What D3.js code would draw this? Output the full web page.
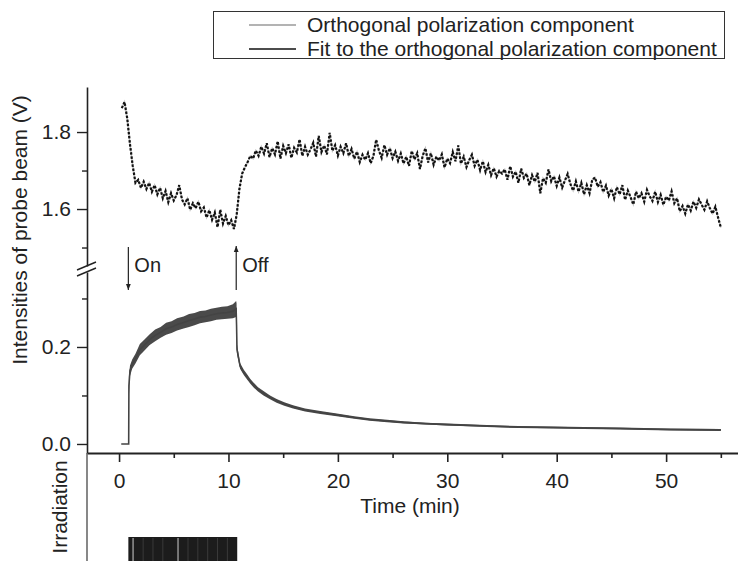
<!DOCTYPE html>
<html>
<head>
<meta charset="utf-8">
<script src="https://cdn.jsdelivr.net/npm/d3@7"></script>
<style>
  html, body { margin: 0; padding: 0; background: #fff; }
  svg { display: block; font-family: "Liberation Sans", Arial, sans-serif; }
  .axis text { font-size: 21px; fill: #222; font-family: "Liberation Sans", Arial, sans-serif; }
  .axis path, .axis line { stroke: #222; }
</style>
</head>
<body>
<svg id="chart" width="738" height="561"></svg>
<script>
// Probe-beam intensity, upper (parallel) trace: sampled every 0.25 min from 0.25 min
const upperStart = 0.25;
const upperStep = 0.25;
const upperValues = [
  1.862, 1.878, 1.835, 1.768, 1.712, 1.668, 1.676, 1.655, 1.671, 1.652,
  1.668, 1.645, 1.662, 1.638, 1.655, 1.628, 1.647, 1.618, 1.641, 1.622,
  1.636, 1.662, 1.625, 1.612, 1.628, 1.598, 1.615, 1.602, 1.619, 1.594,
  1.604, 1.578, 1.597, 1.572, 1.591, 1.553, 1.598, 1.562, 1.582, 1.558,
  1.571, 1.548, 1.585, 1.652, 1.692, 1.708, 1.722, 1.738, 1.731, 1.752,
  1.738, 1.762, 1.744, 1.771, 1.735, 1.758, 1.742, 1.776, 1.731, 1.764,
  1.745, 1.768, 1.733, 1.759, 1.747, 1.781, 1.738, 1.762, 1.741, 1.755,
  1.772, 1.736, 1.790, 1.748, 1.765, 1.742, 1.798, 1.751, 1.766, 1.739,
  1.762, 1.745, 1.771, 1.738, 1.756, 1.731, 1.749, 1.722, 1.741, 1.728,
  1.745, 1.719, 1.738, 1.780, 1.752, 1.733, 1.766, 1.741, 1.758, 1.732,
  1.749, 1.725, 1.744, 1.718, 1.736, 1.712, 1.751, 1.729, 1.745, 1.704,
  1.738, 1.758, 1.721, 1.745, 1.715, 1.736, 1.726, 1.742, 1.708, 1.731,
  1.719, 1.748, 1.724, 1.765, 1.718, 1.736, 1.709, 1.727, 1.741, 1.712,
  1.728, 1.701, 1.724, 1.696, 1.715, 1.688, 1.706, 1.684, 1.699, 1.692,
  1.703, 1.676, 1.711, 1.684, 1.697, 1.668, 1.705, 1.681, 1.692, 1.662,
  1.688, 1.671, 1.694, 1.641, 1.680, 1.668, 1.703, 1.672, 1.685, 1.660,
  1.682, 1.656, 1.674, 1.691, 1.665, 1.648, 1.672, 1.645, 1.668, 1.638,
  1.662, 1.641, 1.676, 1.682, 1.658, 1.670, 1.644, 1.661, 1.635, 1.652,
  1.628, 1.657, 1.638, 1.662, 1.624, 1.648, 1.631, 1.612, 1.645, 1.628,
  1.641, 1.619, 1.650, 1.633, 1.621, 1.645, 1.618, 1.637, 1.611, 1.632,
  1.622, 1.646, 1.615, 1.628, 1.594, 1.608, 1.588, 1.612, 1.596, 1.619,
  1.603, 1.625, 1.611, 1.598, 1.620, 1.602, 1.588, 1.606, 1.578, 1.552
];

// Orthogonal polarization component: time (min) with lower / upper edge of the noisy trace (V)
const orthoTime = [
  0.2, 0.88, 0.9, 1.0, 1.2, 1.5, 1.9, 2.3, 2.8, 3.3,
  3.8, 4.3, 4.8, 5.3, 5.9, 6.4, 6.9, 7.4, 7.9, 8.4,
  8.9, 9.4, 9.9, 10.4, 10.7, 10.74, 10.78, 11.06, 11.4, 11.67,
  12.0, 12.28, 12.7, 13.2, 13.8, 14.4, 15.1, 15.9, 17.0, 18.4,
  19.9, 21.5, 22.9, 24.5, 26.0, 28.0, 30.0, 33.6, 36.5, 39.7,
  42.5, 45.8, 48.0, 50.4, 55.0
];
const orthoLow = [
  0, 0, 0.10, 0.140, 0.155, 0.166, 0.183, 0.192, 0.204, 0.212,
  0.219, 0.225, 0.229, 0.234, 0.238, 0.241, 0.245, 0.249, 0.251, 0.253,
  0.256, 0.257, 0.258, 0.259, 0.262, 0.20, 0.185, 0.155, 0.142, 0.134,
  0.124, 0.117, 0.108, 0.100, 0.092, 0.085, 0.079, 0.073, 0.067, 0.062,
  0.057, 0.052, 0.048, 0.045, 0.042, 0.040, 0.038, 0.035, 0.033, 0.032,
  0.031, 0.030, 0.029, 0.028, 0.027
];
const orthoHigh = [
  0, 0, 0.14, 0.162, 0.174, 0.186, 0.206, 0.215, 0.226, 0.236,
  0.241, 0.250, 0.253, 0.259, 0.263, 0.268, 0.270, 0.274, 0.275, 0.279,
  0.281, 0.283, 0.284, 0.288, 0.295, 0.29, 0.205, 0.167, 0.153, 0.145,
  0.134, 0.127, 0.117, 0.109, 0.100, 0.093, 0.086, 0.080, 0.073, 0.068,
  0.063, 0.057, 0.053, 0.050, 0.047, 0.044, 0.042, 0.039, 0.037, 0.036,
  0.035, 0.034, 0.033, 0.032, 0.031
];

// Irradiation period (min) and the thin gaps visible in the exposure bar
const irradiationOn = 0.85;
const irradiationOff = 10.8;
const irradiationGaps = [1.28, 5.39];
const irradiationFaint = [2.2, 3.1, 4.0, 6.3, 7.2, 8.1, 9.0, 9.9];

// Tick values
const xMajorTicks = [0, 10, 20, 30, 40, 50];
const xMinorTicks = [5, 15, 25, 35, 45, 55];
const yTopMajor = [1.6, 1.8];
const yTopMinor = [1.5, 1.7];
const yBotMajor = [0.0, 0.2];
const yBotMinor = [0.1, 0.3];

// Labels
const legendLabels = ["Orthogonal polarization component", "Fit to the orthogonal polarization component"];
const legendColors = ["#9a9a9a", "#111"];
const xTitle = "Time (min)";
const yTitle = "Intensities of probe beam (V)";
const irrTitle = "Irradiation";

const svg = d3.select("#chart");

const axisX = 87;
const x = d3.scaleLinear().domain([-2.93, 56.57]).range([axisX, 738]);
const yTop = d3.scaleLinear().domain([1.452, 1.917]).range([266, 87]);
const yBot = d3.scaleLinear().domain([-0.0186, 0.3546]).range([453, 272]);

// ----- axes -----
function leftAxis(scale, major, minor) {
  const gMaj = svg.append("g").attr("class", "axis")
    .attr("transform", `translate(${axisX},0)`)
    .call(d3.axisLeft(scale).tickValues(major).tickFormat(d3.format(".1f"))
      .tickSize(10).tickSizeOuter(0).tickPadding(6));
  gMaj.selectAll("line").attr("stroke-width", 1.4);
  gMaj.select(".domain").attr("stroke-width", 1.6);
  const gMin = svg.append("g").attr("class", "axis")
    .attr("transform", `translate(${axisX},0)`)
    .call(d3.axisLeft(scale).tickValues(minor).tickFormat("").tickSize(5).tickSizeOuter(0));
  gMin.select(".domain").remove();
  gMin.selectAll("line").attr("stroke-width", 1.4);
}
leftAxis(yTop, yTopMajor, yTopMinor);
leftAxis(yBot, yBotMajor, yBotMinor);

// axis break marks
const breakG = svg.append("g");
[0, 6].forEach(dy => {
  breakG.append("line")
    .attr("x1", axisX - 10).attr("y1", 270 + dy)
    .attr("x2", axisX + 9).attr("y2", 262 + dy)
    .attr("stroke", "#222").attr("stroke-width", 1.4);
});

// bottom axis
const gx = svg.append("g").attr("class", "axis")
  .attr("transform", "translate(0,453)")
  .call(d3.axisBottom(x).tickValues(xMajorTicks).tickFormat(d3.format("d"))
    .tickSize(9).tickSizeOuter(0).tickPadding(11));
gx.select(".domain").attr("stroke-width", 2);
gx.selectAll("line").attr("stroke-width", 1.6);
const gxm = svg.append("g").attr("class", "axis")
  .attr("transform", "translate(0,453)")
  .call(d3.axisBottom(x).tickValues(xMinorTicks).tickFormat("").tickSize(5).tickSizeOuter(0));
gxm.select(".domain").remove();
gxm.selectAll("line").attr("stroke-width", 1.6);

// irradiation axis line
svg.append("line")
  .attr("x1", axisX).attr("x2", axisX).attr("y1", 453).attr("y2", 561)
  .attr("stroke", "#555").attr("stroke-width", 1.4);

// ----- lower trace (orthogonal component) -----
const ortho = orthoTime.map((t, i) => ({ t, lo: orthoLow[i], hi: orthoHigh[i] }));
svg.append("path")
  .datum(ortho)
  .attr("d", d3.area().x(d => x(d.t)).y0(d => yBot(d.lo)).y1(d => yBot(d.hi)))
  .attr("fill", "#4a4a4a");
svg.append("path")
  .datum(ortho)
  .attr("d", d3.line().x(d => x(d.t)).y(d => yBot((d.lo + d.hi) / 2)))
  .attr("fill", "none").attr("stroke", "#444").attr("stroke-width", 1.6);

// ----- upper trace -----
const upper = upperValues.map((v, i) => ({ t: upperStart + i * upperStep, v }));
const upperLine = d3.line().x(d => x(d.t)).y(d => yTop(d.v));
svg.append("path").datum(upper).attr("d", upperLine)
  .attr("fill", "none").attr("stroke", "#bdbdbd").attr("stroke-width", 1.4);
svg.append("path").datum(upper).attr("d", upperLine)
  .attr("fill", "none").attr("stroke", "#111").attr("stroke-width", 2.2)
  .attr("stroke-dasharray", "2.5,1.6");

// ----- On / Off annotations -----
const defs = svg.append("defs");
defs.append("marker").attr("id", "arrow")
  .attr("viewBox", "0 0 10 10").attr("refX", 10).attr("refY", 5)
  .attr("markerWidth", 6).attr("markerHeight", 6)
  .attr("markerUnits", "userSpaceOnUse").attr("orient", "auto")
  .append("path").attr("d", "M0,1 L10,5 L0,9 Z").attr("fill", "#222");

svg.append("line")
  .attr("x1", x(irradiationOn)).attr("x2", x(irradiationOn))
  .attr("y1", 247).attr("y2", 290)
  .attr("stroke", "#222").attr("stroke-width", 1.2).attr("marker-end", "url(#arrow)");
svg.append("text").attr("x", x(irradiationOn) + 6).attr("y", 272)
  .attr("font-size", 20).attr("fill", "#222").text("On");

svg.append("line")
  .attr("x1", x(irradiationOff) - 1).attr("x2", x(irradiationOff) - 1)
  .attr("y1", 290).attr("y2", 246)
  .attr("stroke", "#222").attr("stroke-width", 1.2).attr("marker-end", "url(#arrow)");
svg.append("text").attr("x", x(irradiationOff) + 5).attr("y", 272)
  .attr("font-size", 20).attr("fill", "#222").text("Off");

// ----- irradiation bar -----
svg.append("rect")
  .attr("x", x(irradiationOn)).attr("y", 537)
  .attr("width", x(irradiationOff) - x(irradiationOn)).attr("height", 561 - 537)
  .attr("fill", "#1c1c1c");
svg.selectAll(".faint").data(irradiationFaint).enter().append("line")
  .attr("x1", d => x(d)).attr("x2", d => x(d)).attr("y1", 538).attr("y2", 561)
  .attr("stroke", "#3a3a3a").attr("stroke-width", 1);
svg.selectAll(".gap").data(irradiationGaps).enter().append("line")
  .attr("x1", d => x(d)).attr("x2", d => x(d)).attr("y1", 538).attr("y2", 561)
  .attr("stroke", "#cfcfcf").attr("stroke-width", 1);

// ----- titles -----
svg.append("text")
  .attr("transform", "translate(27,230) rotate(-90)")
  .attr("text-anchor", "middle").attr("font-size", 21).attr("fill", "#222")
  .text(yTitle);
svg.append("text")
  .attr("transform", "translate(67,507) rotate(-90)")
  .attr("text-anchor", "middle").attr("font-size", 21).attr("fill", "#222")
  .text(irrTitle);
svg.append("text")
  .attr("x", 410).attr("y", 513)
  .attr("text-anchor", "middle").attr("font-size", 21).attr("fill", "#222")
  .text(xTitle);

// ----- legend -----
const lg = svg.append("g");
lg.append("rect").attr("x", 213.5).attr("y", 11.5).attr("width", 511).attr("height", 47)
  .attr("fill", "#fff").attr("stroke", "#333").attr("stroke-width", 1);
legendLabels.forEach((label, i) => {
  const cy = 25 + i * 24;
  lg.append("line").attr("x1", 249).attr("x2", 296).attr("y1", cy).attr("y2", cy)
    .attr("stroke", legendColors[i]).attr("stroke-width", 1.6);
  lg.append("text").attr("x", 307).attr("y", cy + 7)
    .attr("font-size", 21).attr("fill", "#222").text(label);
});
</script>
</body>
</html>
